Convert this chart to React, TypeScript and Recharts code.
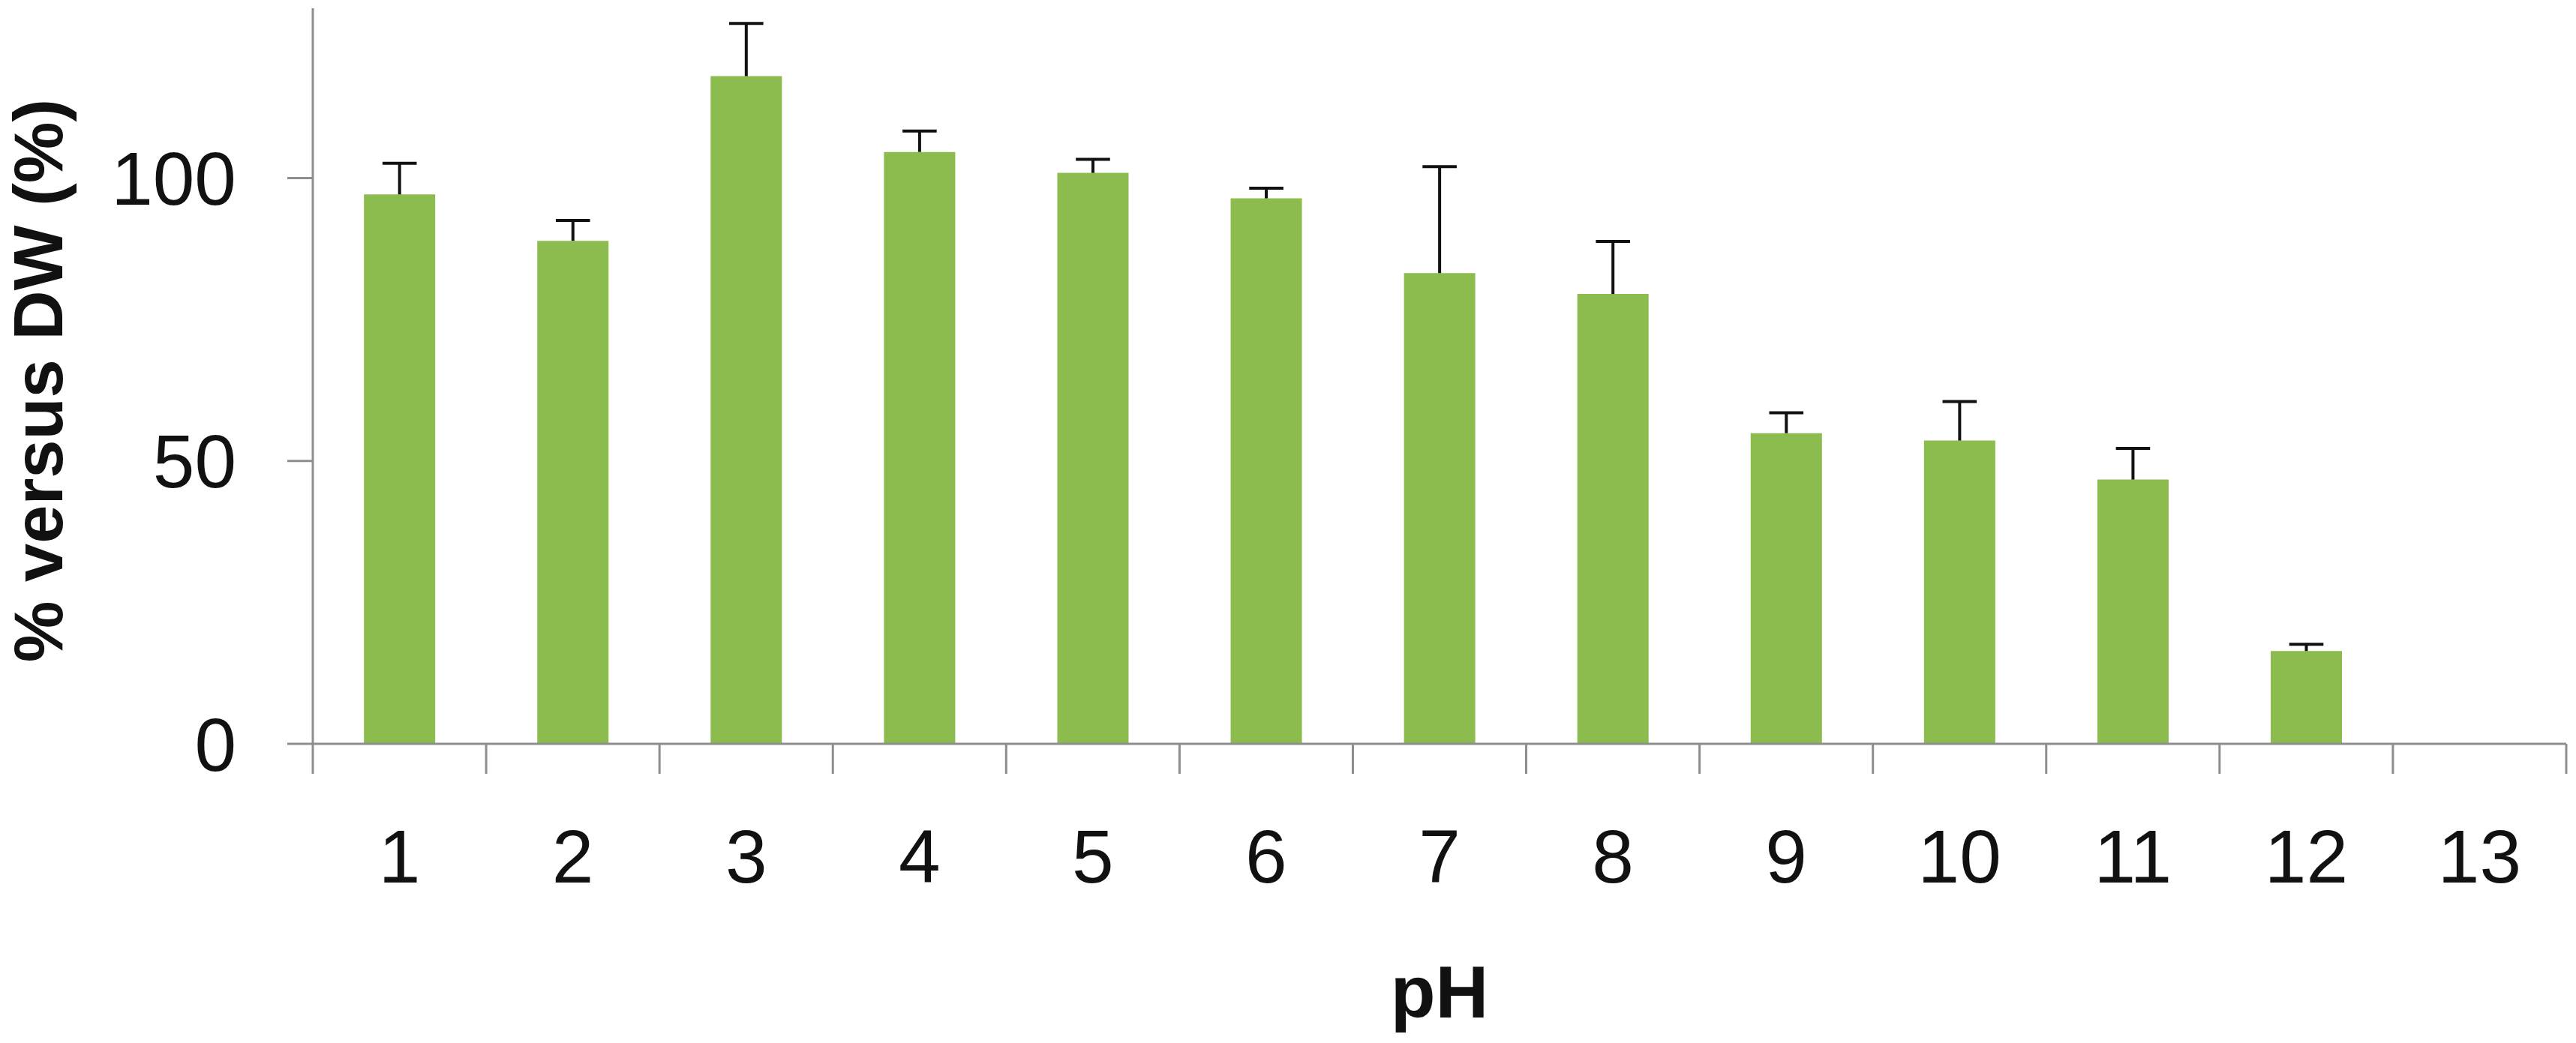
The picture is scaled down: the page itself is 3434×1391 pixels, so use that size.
import { Bar, BarChart, XAxis, YAxis } from "recharts";

const PH_LABELS = ["1", "2", "3", "4", "5", "6", "7", "8", "9", "10", "11", "12", "13"];
const MEAN_PCT = [97.1, 88.9, 118.0, 104.6, 100.9, 96.4, 83.2, 79.5, 54.9, 53.6, 46.7, 16.4, 0];
const ERR_UP = [5.5, 3.6, 9.3, 3.7, 2.4, 1.8, 18.8, 9.3, 3.6, 6.9, 5.5, 1.2, 0];
const Y_TICKS = [0, 50, 100];

const AXIS_GRAY = "#8e8e8e";
const BAR_GREEN = "#8cbb4e";
const FONT = "'Liberation Sans', Arial, sans-serif";

const chartData = PH_LABELS.map((ph, i) => ({ ph, mean: MEAN_PCT[i], err: ERR_UP[i] }));

// category ticks: label in the middle, tick marks on the band edges (like Excel)
const PhTick = (props: any) => {
  const { x, y, payload, index, visibleTicksCount, width } = props;
  const half = payload?.offset ?? (width && visibleTicksCount ? width / visibleTicksCount / 2 : 115.5);
  const last = index === visibleTicksCount - 1;
  return (
    <g>
      <line x1={x - half} x2={x - half} y1={y} y2={y + 40} stroke={AXIS_GRAY} strokeWidth={3} />
      {last && <line x1={x + half} x2={x + half} y1={y} y2={y + 40} stroke={AXIS_GRAY} strokeWidth={3} />}
      <text x={x} y={y + 185} textAnchor="middle" fontSize={100} fontFamily={FONT} fill="#111">
        {payload.value}
      </text>
    </g>
  );
};

// upper-only error bar drawn as a stacked, unfilled segment on top of the mean
const ErrorCap = (props: any) => {
  const { x, y, width, height } = props;
  if (!height || height <= 0) return null;
  const cx = x + width / 2;
  const cap = width * 0.48;
  return (
    <g>
      <line x1={cx} x2={cx} y1={y + height} y2={y} stroke="#111" strokeWidth={4} />
      <line x1={cx - cap / 2} x2={cx + cap / 2} y1={y} y2={y} stroke="#111" strokeWidth={4} />
    </g>
  );
};

const App = () => {
  return (
    <div style={{ width: 3434, height: 1391, background: "#fff" }}>
      <style>{"body{margin:0}"}</style>
      <BarChart
        width={3434}
        height={1391}
        data={chartData}
        margin={{ top: 11, right: 13, left: 0, bottom: 0 }}
        barCategoryGap="29.5%"
      >
        <XAxis
          dataKey="ph"
          height={399}
          interval={0}
          tickLine={false}
          tickSize={0}
          tickMargin={0}
          axisLine={{ stroke: AXIS_GRAY, strokeWidth: 3 }}
          tick={<PhTick />}
          label={{
            content: ({ viewBox }: any) => (
              <text
                x={viewBox.x + viewBox.width / 2}
                y={viewBox.y + 365}
                textAnchor="middle"
                fontSize={98}
                fontWeight="bold"
                fontFamily={FONT}
                fill="#111"
              >
                pH
              </text>
            ),
          }}
        />
        <YAxis
          width={417}
          domain={[0, 130]}
          ticks={Y_TICKS}
          interval={0}
          tickSize={34}
          tickMargin={68}
          axisLine={{ stroke: AXIS_GRAY, strokeWidth: 3 }}
          tickLine={{ stroke: AXIS_GRAY, strokeWidth: 3 }}
          tick={{ fontSize: 100, fontFamily: FONT, fill: "#111" }}
          label={{
            content: ({ viewBox }: any) => {
              const cy = viewBox.y + viewBox.height / 2 + 6;
              return (
                <text
                  x={83}
                  y={cy}
                  transform={`rotate(-90, 83, ${cy})`}
                  textAnchor="middle"
                  fontSize={92}
                  fontWeight="bold"
                  fontFamily={FONT}
                  fill="#111"
                >
                  % versus DW (%)
                </text>
              );
            },
          }}
        />
        <Bar dataKey="mean" stackId="ph" fill={BAR_GREEN} isAnimationActive={false} />
        <Bar dataKey="err" stackId="ph" fill="none" shape={<ErrorCap />} isAnimationActive={false} />
      </BarChart>
    </div>
  );
};

export default App;
